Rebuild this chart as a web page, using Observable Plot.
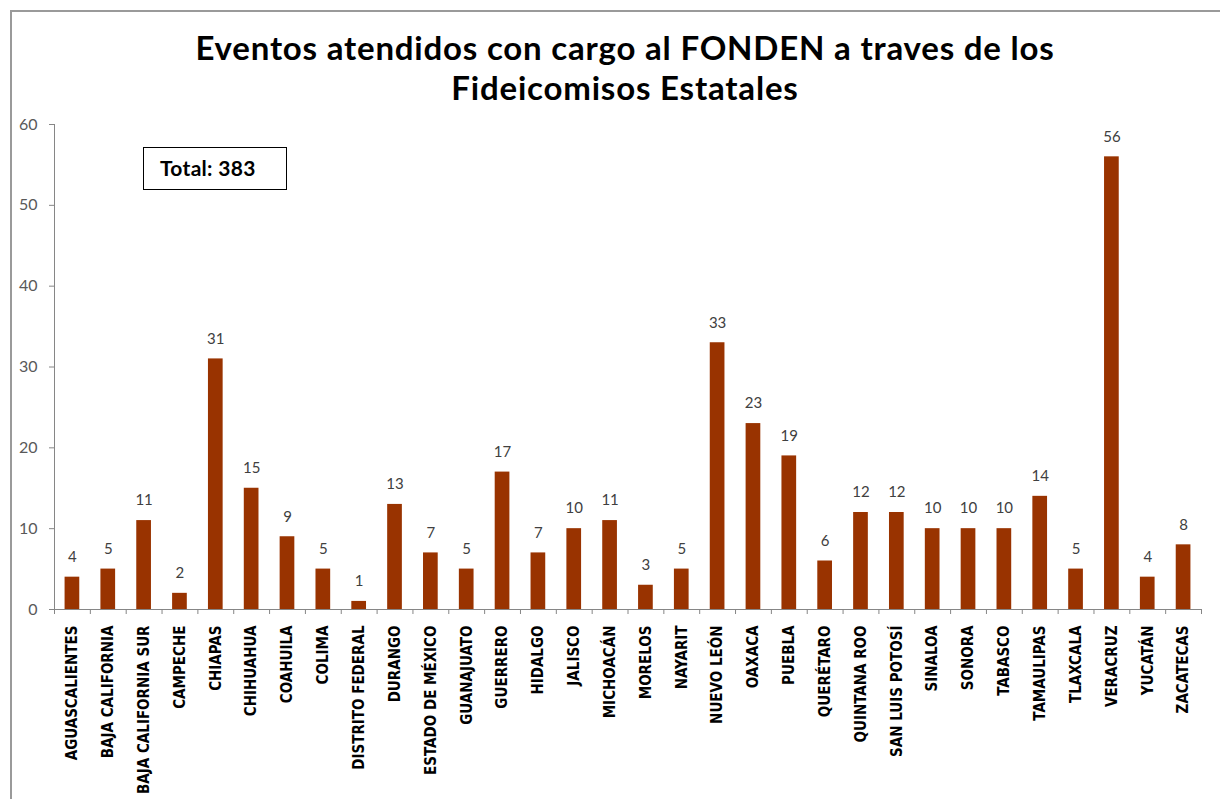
<!DOCTYPE html>
<html><head><meta charset="utf-8">
<script src="https://cdn.jsdelivr.net/npm/d3@7"></script>
<script src="https://cdn.jsdelivr.net/npm/@observablehq/plot@0.6"></script>
<style>
html,body{margin:0;padding:0;background:#fff;}
#wrap{position:relative;width:1220px;height:799px;overflow:hidden;background:#fff;}
#frame{position:absolute;left:10px;top:10px;width:1300px;height:900px;border-left:2px solid #9a9a9a;border-top:2px solid #9a9a9a;box-sizing:border-box;}
#title{position:absolute;left:0;top:27px;width:1250px;text-align:center;font-family:Lato,"Open Sans",sans-serif;font-weight:bold;font-size:33px;letter-spacing:0.8px;line-height:40px;color:#000;}
#total{position:absolute;left:143px;top:147px;width:144px;height:43px;border:1.5px solid #000;box-sizing:border-box;font-family:Lato,"Open Sans",sans-serif;font-weight:bold;font-size:21px;letter-spacing:0.3px;line-height:40px;padding-left:16px;color:#000;}
#chart{position:absolute;left:0;top:0;}
</style>
</head><body>
<div id="wrap">
<div id="frame"></div>
<div id="chart"></div>
<div id="title">Eventos atendidos con cargo al FONDEN a traves de los<br>Fideicomisos Estatales</div>
<div id="total">Total: 383</div>
</div>
<script>
const states = ["AGUASCALIENTES","BAJA CALIFORNIA","BAJA CALIFORNIA SUR","CAMPECHE","CHIAPAS","CHIHUAHUA","COAHUILA","COLIMA","DISTRITO FEDERAL","DURANGO","ESTADO DE MÉXICO","GUANAJUATO","GUERRERO","HIDALGO","JALISCO","MICHOACÁN","MORELOS","NAYARIT","NUEVO LEÓN","OAXACA","PUEBLA","QUERÉTARO","QUINTANA ROO","SAN LUIS POTOSÍ","SINALOA","SONORA","TABASCO","TAMAULIPAS","TLAXCALA","VERACRUZ","YUCATÁN","ZACATECAS"];
const events = [4,5,11,2,31,15,9,5,1,13,7,5,17,7,10,11,3,5,33,23,19,6,12,12,10,10,10,14,5,56,4,8];
const yTicks = [0,10,20,30,40,50,60];

const data = states.map((s,i)=>({state:s, value:events[i]}));
const W = 1220, H = 799, mL = 54, mR = 19, mT = 124, mB = 190;
const step = (W - mL - mR) / states.length;
const pad = 0.59;

const plot = Plot.plot({
  width: W, height: H,
  marginLeft: mL, marginRight: mR, marginTop: mT, marginBottom: mB,
  style: {fontFamily: "Lato, 'Open Sans', sans-serif", background: "transparent", overflow: "visible"},
  x: {domain: states, paddingInner: pad, paddingOuter: pad/2, round: false, axis: null, label: null},
  y: {domain: [0,60], axis: null, label: null},
  marks: [
    Plot.barY(data, {x: "state", y: "value", fill: "#993300"}),
    Plot.text(data, {x: "state", y: "value", text: d => String(d.value), dy: -20, fill: "#404040", fontSize: 15}),
    Plot.ruleY([0], {stroke: "#868686", strokeWidth: 1}),
    Plot.ruleX([states[0]], {y1: 0, y2: 60, dx: -step/2, stroke: "#868686", strokeWidth: 1}),
    Plot.axisY({ticks: yTicks, tickSize: 5, tickPadding: 12, stroke: "#868686", fill: "#595959", fontSize: 16, tickFormat: d => String(d), label: null}),
    Plot.axisX({tickSize: 5, dx: -step/2, tickFormat: () => "", stroke: "#868686", label: null}),
    Plot.axisX({ticks: [states[states.length-1]], tickSize: 5, dx: step/2, tickFormat: () => "", stroke: "#868686", label: null}),
    Plot.axisX({tickSize: 0, tickPadding: 16, tickRotate: -90, fontSize: 15, fontWeight: "bold", fill: "#000", label: null,
      fontFamily: "'Liberation Sans Narrow', 'DejaVu Sans Condensed', sans-serif"})
  ]
});
document.getElementById("chart").appendChild(plot);
</script>
</body></html>
